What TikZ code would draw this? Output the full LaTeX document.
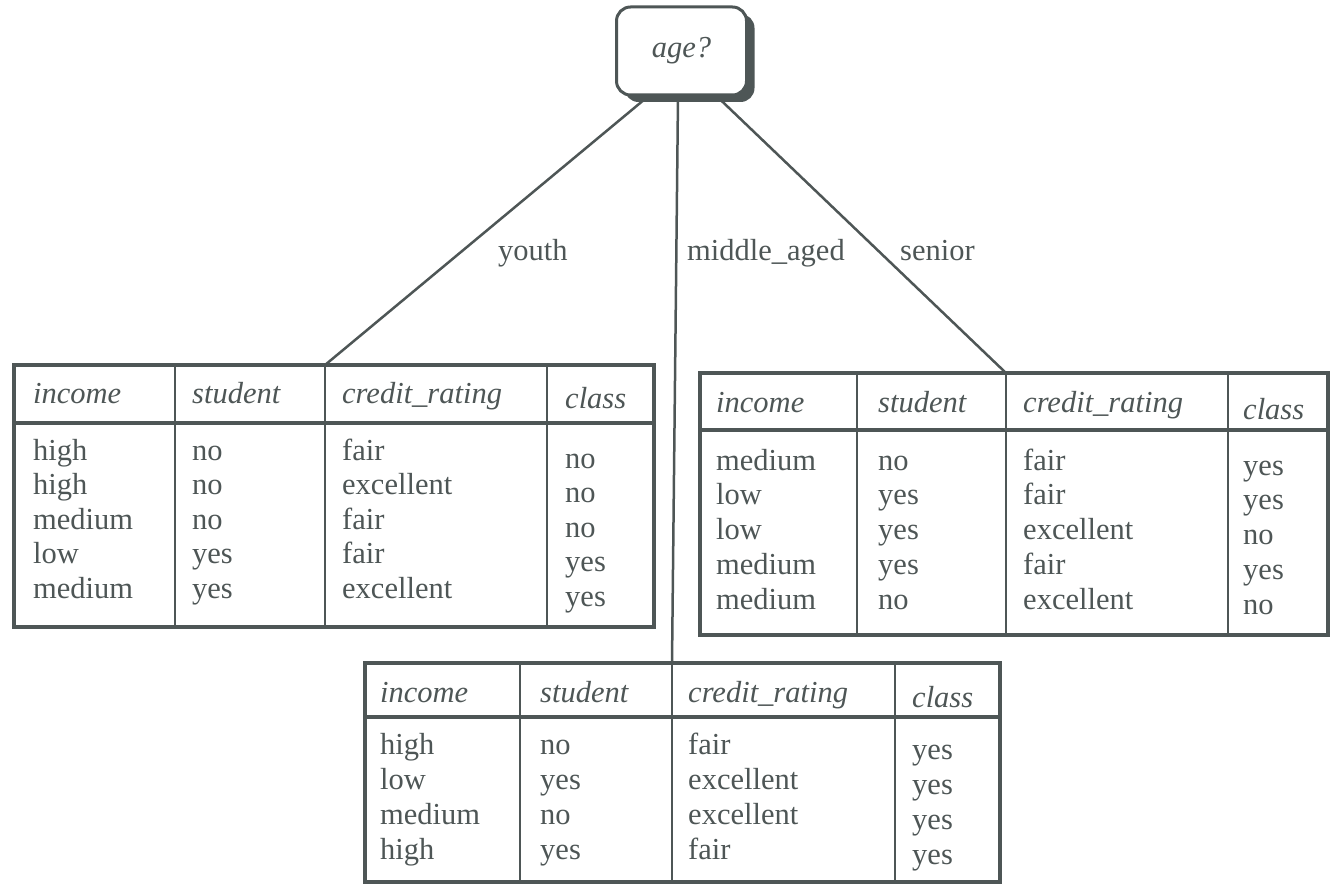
\documentclass[tikz,border=0pt]{standalone}
\usepackage{fontspec}
\setmainfont{Liberation Serif}
\usetikzlibrary{shadows}
\definecolor{ink}{RGB}{78,86,86}
\tikzset{
  txt/.style={inner sep=0pt, text=ink, font=\fontsize{30.5}{35}\selectfont},
  cell/.style={txt, anchor=base west},
  head/.style={cell, font=\fontsize{30.5}{35}\selectfont\itshape},
  rootbox/.style={draw=ink, line width=3pt, fill=white, rounded corners=14pt,
    minimum width=130pt, minimum height=88pt, txt, font=\fontsize{30.5}{35}\selectfont\itshape,
    drop shadow={shadow xshift=8pt, shadow yshift=-7pt, fill=ink, opacity=1}},
  tabbox/.style={draw=ink, line width=4pt, fill=white, inner sep=0pt},
  headrule/.style={draw=ink, line width=4pt},
  colrule/.style={draw=ink, line width=2.5pt},
  branch/.style={draw=ink, line width=2.5pt}
}
\begin{document}
\begin{tikzpicture}[x=1pt,y=-1pt]
\useasboundingbox (0,0) rectangle (1337,888);
\node[rootbox] (root) at (681.5,51) {age?};

\node[tabbox, minimum width=640pt, minimum height=262pt] (youthTab) at (334,496) {};
\draw[headrule] (14,423) -- (654,423);
\foreach \x in {175,325,547} \draw[colrule] (\x,365) -- (\x,627);
\coordinate (youthJoin) at (325,365);
\node[head] (youthH1) at (33,403) {income};
\node[head] (youthH2) at (192,403) {student};
\node[head] (youthH3) at (342,403) {credit\_rating};
\node[head] (youthH4) at (565,408) {class};
\foreach \a/\b/\c/\d [count=\i] in {high/no/fair/no, high/no/excellent/no, medium/no/fair/no, low/yes/fair/yes, medium/yes/excellent/yes} {
  \node[cell] (youthA\i) at (33,{460+34.5*(\i-1)}) {\a};
  \node[cell] (youthB\i) at (192,{460+34.5*(\i-1)}) {\b};
  \node[cell] (youthC\i) at (342,{460+34.5*(\i-1)}) {\c};
  \node[cell] (youthD\i) at (565,{468+34.5*(\i-1)}) {\d};
}

\node[tabbox, minimum width=628pt, minimum height=262pt] (seniorTab) at (1014,504) {};
\draw[headrule] (700,430) -- (1328,430);
\foreach \x in {857,1006,1228} \draw[colrule] (\x,373) -- (\x,635);
\coordinate (seniorJoin) at (1006,373);
\node[head] (seniorH1) at (716,412) {income};
\node[head] (seniorH2) at (878,412) {student};
\node[head] (seniorH3) at (1023,412) {credit\_rating};
\node[head] (seniorH4) at (1243,419) {class};
\foreach \a/\b/\c/\d [count=\i] in {medium/no/fair/yes, low/yes/fair/yes, low/yes/excellent/no, medium/yes/fair/yes, medium/no/excellent/no} {
  \node[cell] (seniorA\i) at (716,{470+34.8*(\i-1)}) {\a};
  \node[cell] (seniorB\i) at (878,{470+34.8*(\i-1)}) {\b};
  \node[cell] (seniorC\i) at (1023,{470+34.8*(\i-1)}) {\c};
  \node[cell] (seniorD\i) at (1243,{475+34.8*(\i-1)}) {\d};
}

\node[tabbox, minimum width=635pt, minimum height=219pt] (middleTab) at (682.5,772.5) {};
\draw[headrule] (365,717) -- (1000,717);
\foreach \x in {520,672,895} \draw[colrule] (\x,663) -- (\x,882);
\coordinate (middleJoin) at (672,663);
\node[head] (middleH1) at (380,702) {income};
\node[head] (middleH2) at (540,702) {student};
\node[head] (middleH3) at (688,702) {credit\_rating};
\node[head] (middleH4) at (912,707) {class};
\foreach \a/\b/\c/\d [count=\i] in {high/no/fair/yes, low/yes/excellent/yes, medium/no/excellent/yes, high/yes/fair/yes} {
  \node[cell] (middleA\i) at (380,{754+35*(\i-1)}) {\a};
  \node[cell] (middleB\i) at (540,{754+35*(\i-1)}) {\b};
  \node[cell] (middleC\i) at (688,{754+35*(\i-1)}) {\c};
  \node[cell] (middleD\i) at (912,{759+35*(\i-1)}) {\d};
}

\draw[branch] ([xshift=-33.5pt]root.south) -- (youthJoin);
\draw[branch] ([xshift=-3.5pt]root.south) -- (middleJoin);
\draw[branch] ([xshift=35.5pt]root.south) -- (seniorJoin);
\node[cell] (youth) at (498,260) {youth};
\node[cell] (middle) at (687,260) {middle\_aged};
\node[cell] (senior) at (900,260) {senior};
\end{tikzpicture}
\end{document}
